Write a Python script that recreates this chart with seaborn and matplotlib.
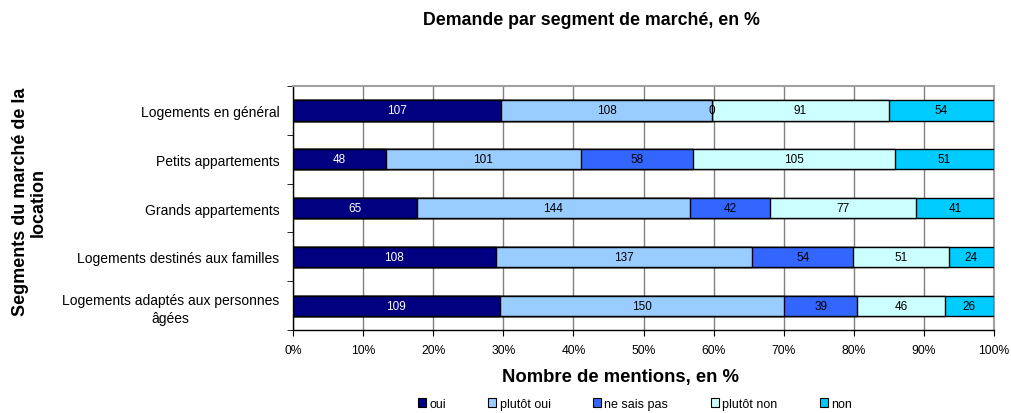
import numpy as np
import pandas as pd
import matplotlib
matplotlib.use('Agg')
import matplotlib.pyplot as plt
from matplotlib.patches import Patch
import seaborn as sns

segments = ['Logements en général', 'Petits appartements', 'Grands appartements',
            'Logements destinés aux familles', 'Logements adaptés aux personnes\nâgées']
answers = ['oui', 'plutôt oui', 'ne sais pas', 'plutôt non', 'non']
oui = [107, 48, 65, 108, 109]
plutot_oui = [108, 101, 144, 137, 150]
ne_sais_pas = [0, 58, 42, 54, 39]
plutot_non = [91, 105, 77, 51, 46]
non = [54, 51, 41, 24, 26]
colors = ['#000080', '#99CCFF', '#3366FF', '#CCFFFF', '#00CCFF']
text_colors = ['white', 'black', 'black', 'black', 'black']

sns.set_style('white')
plt.rcParams['font.family'] = ['Liberation Sans', 'DejaVu Sans']
for key in ['text.color', 'axes.labelcolor', 'xtick.color', 'ytick.color']:
    plt.rcParams[key] = 'black'

counts = pd.DataFrame({'oui': oui, 'plutôt oui': plutot_oui, 'ne sais pas': ne_sais_pas,
                       'plutôt non': plutot_non, 'non': non}, index=segments)
pct = counts.div(counts.sum(axis=1), axis=0) * 100
cum = pct.cumsum(axis=1)

fig = plt.figure(figsize=(10.11, 4.14), dpi=100)
ax = fig.add_axes([0.290, 0.200, 0.693, 0.590])

# stacked bars: draw cumulative totals from the right end to the left
for k in range(len(answers) - 1, -1, -1):
    df = pd.DataFrame({'seg': segments, 'val': cum[answers[k]].values})
    sns.barplot(data=df, x='val', y='seg', orient='h', color=colors[k], width=0.42,
                edgecolor='black', linewidth=1.0, saturation=1, ax=ax, zorder=3)

for k, a in enumerate(answers):
    left = cum[a] - pct[a]
    for i, s in enumerate(segments):
        ax.text(left[s] + pct[a][s] / 2, i, str(counts[a][s]), ha='center', va='center',
                fontsize=8.5, color=text_colors[k], zorder=5)

ax.set_xlim(0, 100)
ax.set_ylim(len(segments) - 0.5, -0.5)
ax.set_xticks(np.arange(0, 101, 10))
ax.set_xticklabels([f'{v}%' for v in range(0, 101, 10)], fontsize=8.7)
ax.set_yticks(range(len(segments)))
ax.set_yticklabels(segments, fontsize=10, multialignment='center', linespacing=1.3)
ax.set_yticks(np.arange(-0.5, len(segments), 1), minor=True)
ax.tick_params(axis='y', which='major', length=0, pad=10)
ax.tick_params(axis='y', which='minor', length=4, direction='out', color='black', left=True)
ax.tick_params(axis='x', length=4, direction='out', color='black', bottom=True, pad=6)
ax.grid(axis='x', color='#808080', linewidth=1, zorder=0)
ax.set_axisbelow(True)
for side in ['left', 'bottom']:
    ax.spines[side].set_color('black')
    ax.spines[side].set_linewidth(1)
for side in ['top', 'right']:
    ax.spines[side].set_visible(True)
    ax.spines[side].set_color('#A0A0A0')
    ax.spines[side].set_linewidth(1.5)

ax.set_xlabel('')
ax.set_ylabel('')
fig.text(0.585, 0.950, 'Demande par segment de marché, en %', ha='center', va='center',
         fontsize=12.8, fontweight='bold')
fig.text(0.614, 0.087, 'Nombre de mentions, en %', ha='center', va='center',
         fontsize=13.3, fontweight='bold')
fig.text(0.029, 0.512, 'Segments du marché de la\nlocation', ha='center', va='center',
         rotation=90, fontsize=13, fontweight='bold', multialignment='center',
         linespacing=1.05)

handles = [Patch(facecolor=c, edgecolor='black', linewidth=0.8) for c in colors]
fig.legend(handles, answers, loc='center', bbox_to_anchor=(0.628, 0.022), ncol=5,
           frameon=False, fontsize=9, handlelength=0.65, handleheight=0.65,
           handletextpad=0.25, columnspacing=3.4)

fig.savefig('out.png', dpi=100)
